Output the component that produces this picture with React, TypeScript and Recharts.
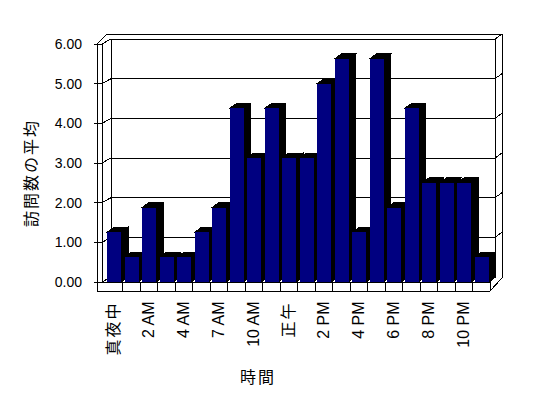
import React from 'react';
import { BarChart, Bar, XAxis, YAxis, CartesianGrid } from 'recharts';

const categories = ['真夜中', '1 AM', '2 AM', '3 AM', '4 AM', '6 AM', '7 AM', '8 AM', '10 AM', '11 AM', '正午', '1 PM', '2 PM', '3 PM', '4 PM', '5 PM', '6 PM', '7 PM', '8 PM', '9 PM', '10 PM', '11 PM'];
const visits = [1.25, 0.625, 1.875, 0.625, 0.625, 1.25, 1.875, 4.375, 3.125, 4.375, 3.125, 3.125, 5.0, 5.625, 1.25, 5.625, 1.875, 4.375, 2.5, 2.5, 2.5, 0.625];
const yTicks = [0, 1, 2, 3, 4, 5, 6];
const yTitle = '訪問数の平均';
const xTitle = '時間';

const data = categories.map((c, i) => ({ cat: c, v: visits[i] }));

const DX = 7, DY = -5; // bar depth
const WX = 6, WY = -5; // back wall offset

const LATIN = '"Liberation Sans", Arial, sans-serif';
const CJK = '"Noto Sans CJK JP", "Liberation Sans", sans-serif';

function Bar3D(props: any) {
  const { x, y, width, height } = props;
  if (height == null || width == null) return null;
  const x2 = x + width, y2 = y + height;
  return (
    <g shapeRendering="crispEdges">
      <polygon points={`${x2},${y} ${x2 + DX},${y + DY} ${x2 + DX},${y2 + DY} ${x2},${y2}`} fill="#000" stroke="#000" />
      <polygon points={`${x},${y} ${x + DX},${y + DY} ${x2 + DX},${y + DY} ${x2},${y}`} fill="#000" stroke="#000" />
      <rect x={x} y={y} width={width} height={height} fill="#000080" />
    </g>
  );
}

function Ln(p: { a: number; b: number; c: number; d: number }) {
  return <line x1={p.a} y1={p.b} x2={p.c} y2={p.d} stroke="#000" strokeWidth={1} shapeRendering="crispEdges" />;
}

function gridLine(props: any) {
  const { x, y, width, height, y1, index } = props;
  const L = x, R = x + width, T = y, B = y + height;
  const yb = y1 + WY;
  const isBottom = Math.abs(y1 - B) < 0.5;
  const parts: any[] = [];
  parts.push(<Ln key="g" a={L + WX} b={yb} c={R + 5} d={yb} />);
  parts.push(<Ln key="ld" a={L - 3} b={y1} c={L + WX} d={yb} />);
  parts.push(<Ln key="lt" a={L - 11} b={y1} c={L - 3} d={y1} />);
  if (!isBottom) parts.push(<Ln key="rd" a={R + 5} b={yb} c={R + 12} d={yb - 5} />);
  if (index === 0) {
    const n = categories.length;
    const bw = width / n;
    parts.push(<Ln key="f1" a={L - 8} b={T} c={L - 8} d={B + 9} />);
    parts.push(<Ln key="f2" a={L - 3} b={T} c={L - 3} d={B} />);
    parts.push(<Ln key="f3" a={L - 8} b={T} c={L + 2} d={T - 10} />);
    parts.push(<Ln key="f4" a={L + 2} b={T - 10} c={R + 12} d={T - 10} />);
    parts.push(<Ln key="f5" a={R + 12} b={T - 10} c={R + 12} d={B - 4} />);
    parts.push(<Ln key="f6" a={R + 5} b={T - 5} c={R + 5} d={B - 5} />);
    parts.push(<Ln key="f7" a={L + WX} b={T - 5} c={L + WX} d={B - 5} />);
    parts.push(<Ln key="f8" a={L - 3} b={B} c={R} d={B} />);
    parts.push(<Ln key="f9" a={L - 8} b={B + 9} c={R} d={B + 9} />);
    parts.push(<Ln key="f10" a={R} b={B} c={R} d={B + 9} />);
    parts.push(<Ln key="f11" a={R} b={B + 9} c={R + 12} d={B - 4} />);
    parts.push(<Ln key="f12" a={R} b={B} c={R + 5} d={B - 5} />);
    for (let k = 1; k < n; k++) {
      parts.push(<Ln key={'dv' + k} a={L + k * bw} b={B} c={L + k * bw} d={B + 9} />);
    }
  }
  return <g key={'grid-' + index}>{parts}</g>;
}

function XTick(props: any) {
  const { x, y, payload } = props;
  const label = String(payload.value);
  const cjk = /[^\x00-\x7F]/.test(label);
  const y0 = y + 19.5;
  return (
    <text
      x={x}
      y={y0}
      dy="0.3em"
      transform={`rotate(-90, ${x}, ${y0})`}
      textAnchor="end"
      fontFamily={cjk ? CJK : LATIN}
      fontSize={16}
      letterSpacing={cjk ? 2 : 0}
      fill="#000"
    >
      {label}
    </text>
  );
}

function YTitle(props: any) {
  const vb = props.viewBox || { x: 5, y: 44, width: 100, height: 238 };
  const cx = vb.x + 25;
  const cy = vb.y + vb.height / 2 + 10;
  return (
    <text x={cx} y={cy} transform={`rotate(-90, ${cx}, ${cy})`} textAnchor="middle" dominantBaseline="central"
      fontFamily={CJK} fontSize={16} letterSpacing={2} fill="#000">
      {yTitle}
    </text>
  );
}

function XTitle(props: any) {
  const vb = props.viewBox || { x: 105, y: 282, width: 385, height: 100 };
  const cx = vb.x + 153;
  const cy = vb.y + 94;
  return (
    <text x={cx} y={cy} textAnchor="middle" dominantBaseline="central"
      fontFamily={CJK} fontSize={16} letterSpacing={2} fill="#000">
      {xTitle}
    </text>
  );
}

export default function App() {
  return (
    <div style={{ position: 'absolute', left: 0, top: 0, width: 548, height: 398, background: '#fff' }}>
      <BarChart
        width={548}
        height={398}
        data={data}
        margin={{ top: 44, right: 58, bottom: 16, left: 5 }}
        barSize={14}
      >
        <CartesianGrid horizontal={gridLine} vertical={false} stroke="#000" />
        <XAxis
          dataKey="cat"
          interval={1}
          axisLine={false}
          tickLine={false}
          tickSize={0}
          tickMargin={0}
          height={100}
          tick={<XTick />}
          label={{ value: xTitle, content: (p: any) => <XTitle {...p} /> }}
        />
        <YAxis
          domain={[0, 6]}
          ticks={yTicks}
          interval={0}
          width={100}
          axisLine={false}
          tickLine={false}
          tickSize={0}
          tickMargin={23}
          tickFormatter={(v: number) => v.toFixed(2)}
          tick={{ fontFamily: LATIN, fontSize: 14, fill: '#000' }}
          label={{ value: yTitle, content: (p: any) => <YTitle {...p} /> }}
        />
        <Bar dataKey="v" isAnimationActive={false} shape={<Bar3D />} />
      </BarChart>
    </div>
  );
}
